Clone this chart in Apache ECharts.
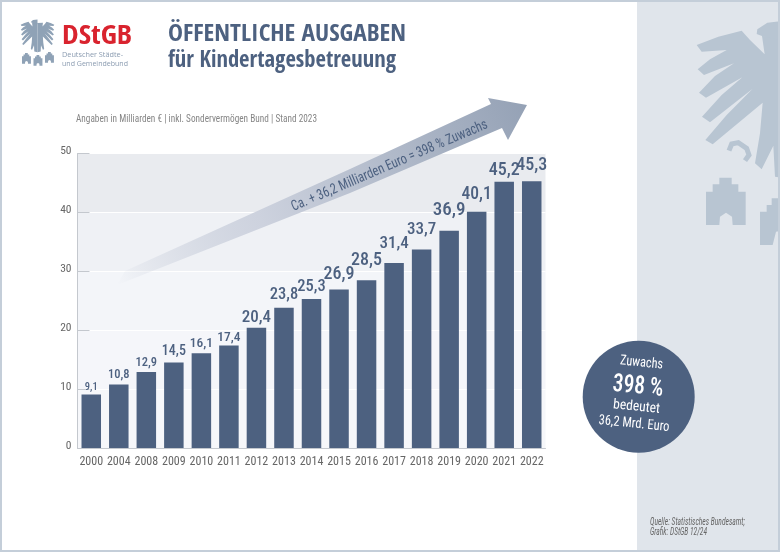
<!DOCTYPE html>
<html>
<head>
<meta charset="utf-8">
<title>Öffentliche Ausgaben für Kindertagesbetreuung</title>
<script src="https://cdn.jsdelivr.net/npm/echarts@6/dist/echarts.min.js"></script>
<style>
html, body { margin: 0; padding: 0; background: #fff; }
#chart { width: 780px; height: 552px; }
</style>
</head>
<body>
<div id="chart"></div>
<script>
var years = ['2000', '2004', '2008', '2009', '2010', '2011', '2012', '2013', '2014', '2015', '2016', '2017', '2018', '2019', '2020', '2021', '2022'];
var values = [9.1, 10.8, 12.9, 14.5, 16.1, 17.4, 20.4, 23.8, 25.3, 26.9, 28.5, 31.4, 33.7, 36.9, 40.1, 45.2, 45.3];
var labelSizes = [10.5, 12.5, 12.5, 14, 13.5, 13.5, 17, 16.5, 16.5, 18, 18, 17, 17, 19, 17.5, 18, 18];
var labelGaps = [2, 3, 3, 4, 3, 1, 2, 4, 4, 6, 11, 11, 11, 11, 8, 2, 7];
var yTicks = [0, 10, 20, 30, 40, 50];

var COND = '"Roboto Condensed", "Roboto", sans-serif';
var HEAD = '"Open Sans Condensed", "Roboto Condensed", sans-serif';
var BLUE = '#4d6180';
var EAGLE = '#b8c5d2';
var LOGO = '#8fa2b6';

// Adlerflügel in Zoomkoordinaten, 490 ist die Mittelachse
var wingShape = [[490,110],[396,108],[404,163],[360,120],[335,92],[265,110],[200,135],[215,155],[290,150],[240,178],[203,208],[222,225],[312,190],[255,228],[207,278],[228,293],[337,232],[275,285],[216,350],[240,367],[368,266],[290,345],[226,420],[248,433],[398,308],[390,400],[375,490],[395,508],[430,437],[435,530],[490,540]];
var headShape = [[490,60],[412,68],[382,88],[380,102],[396,108],[490,130]];
var clawShape = [[297,452],[305,432],[325,428],[350,445],[357,465],[345,482]];
var castleShape = [[228,575],[248,575],[248,553],[268,553],[268,533],[305,533],[305,553],[325,553],[325,575],[347,575],[347,675],[308,675],[306,650],[288,638],[270,650],[268,675],[228,675]];
var castle2Shape = [[390,635],[410,635],[410,615],[425,615],[425,595],[470,595],[470,690],[438,695],[428,735],[390,735]];

var measureCtx = document.createElement('canvas').getContext('2d');

function place(pts, ox, oy, sx, sy) {
    return pts.map(function (p) { return [ox + p[0] * sx, oy + p[1] * sy]; });
}
function poly(pts, fill) {
    return { type: 'polygon', z: 5, shape: { points: pts }, style: { fill: fill } };
}
// Text, der per scaleX auf die Breite aus der Vorlage gebracht wird
function txt(text, x, y, size, width, fill, opts) {
    opts = opts || {};
    var family = opts.family || COND;
    var weight = opts.weight || 'normal';
    var fstyle = opts.style || 'normal';
    measureCtx.font = fstyle + ' ' + weight + ' ' + size + 'px ' + family;
    var sx = width / measureCtx.measureText(text).width;
    return {
        type: 'text', z: 8, x: x, y: y, rotation: opts.rotation || 0, scaleX: sx,
        style: {
            text: text, fill: fill, fontSize: size, fontFamily: family,
            fontWeight: weight, fontStyle: fstyle,
            align: opts.align || 'left', verticalAlign: 'middle'
        }
    };
}
function rect(x, y, w, h, fill, z) {
    return { type: 'rect', z: z, shape: { x: x, y: y, width: w, height: h }, style: { fill: fill } };
}

var graphics = [
    rect(637, 0, 143, 552, '#e0e5eb', 0),
    // grosser Adler rechts
    poly(place(wingShape, 630, 0, 1 / 3, 1 / 3), EAGLE),
    poly(place(headShape, 630, 0, 1 / 3, 1 / 3), EAGLE),
    { type: 'polyline', z: 5, shape: { points: place(clawShape, 630, 0, 1 / 3, 1 / 3) }, style: { stroke: EAGLE, lineWidth: 5, fill: null } },
    poly(place(castleShape, 630, 0, 1 / 3, 1 / 3), EAGLE),
    poly(place(castle2Shape, 630, 0, 1 / 3, 1 / 3), EAGLE),
    // Rahmen
    rect(0, 0, 780, 2, '#c4ced9', 9),
    rect(0, 550, 780, 2, '#c4ced9', 9),
    rect(0, 0, 2, 552, '#c4ced9', 9),
    rect(778, 0, 2, 552, '#c4ced9', 9),
    // Logo
    poly(place(wingShape, 37.5 - 490 * 0.058, 15.5, 0.058, 0.068), LOGO),
    poly(place(wingShape, 37.5 + 490 * 0.058, 15.5, -0.058, 0.068), LOGO),
    poly(place(headShape, 37.5 - 490 * 0.058, 15.5, 0.058, 0.068), LOGO),
    poly(place(castleShape, 22 - 228 * 0.075, 53 - 533 * 0.075, 0.075, 0.075), LOGO),
    poly(place(castleShape, 33.5 - 228 * 0.075, 55 - 533 * 0.075, 0.075, 0.075), LOGO),
    poly(place(castleShape, 45 - 228 * 0.075, 52 - 533 * 0.075, 0.075, 0.075), LOGO),
    txt('DStGB', 62, 37, 27, 70, '#d9232e', { family: HEAD }),
    txt('Deutscher Städte-', 62, 55, 8, 61, '#8a9bb0', { family: '"Open Sans", sans-serif' }),
    txt('und Gemeindebund', 62, 63.5, 8, 66, '#8a9bb0', { family: '"Open Sans", sans-serif' }),
    // Titel
    txt('ÖFFENTLICHE AUSGABEN', 168, 35, 24, 238, BLUE, { family: HEAD }),
    txt('für Kindertagesbetreuung', 168, 61, 23, 228, BLUE, { family: HEAD }),
    txt('Angaben in Milliarden € | inkl. Sondervermögen Bund | Stand 2023', 76, 119, 11, 241, '#858585'),
    // Pfeil
    {
        type: 'polygon', z: 4,
        shape: { points: [[125, 271], [350, 169], [491, 104], [488, 98], [527, 105], [508, 140], [502, 128], [350, 193], [117, 285]] },
        style: {
            fill: new echarts.graphic.LinearGradient(0, 1, 1, 0, [
                { offset: 0, color: 'rgba(190,197,212,0)' },
                { offset: 0.35, color: '#cdd2de' },
                { offset: 1, color: '#94a1b5' }
            ])
        }
    },
    txt('Ca. + 36,2 Milliarden Euro = 398 % Zuwachs', 389.5, 166, 14.5, 212, BLUE, { align: 'center', rotation: 0.405 }),
    // Kreis
    { type: 'circle', z: 7, shape: { cx: 638.7, cy: 396.7, r: 56 }, style: { fill: BLUE } },
    txt('Zuwachs', 641.5, 363, 14, 43, '#fff', { align: 'center', rotation: -0.1 }),
    txt('398 %', 638, 387, 25, 51, '#fff', { align: 'center', rotation: -0.1, weight: 500 }),
    txt('bedeutet', 636.5, 407, 14, 47, '#fff', { align: 'center', rotation: -0.1 }),
    txt('36,2 Mrd. Euro', 634, 424, 14, 71, '#fff', { align: 'center', rotation: -0.1 }),
    // Quelle
    txt('Quelle: Statistisches Bundesamt;', 650, 522.7, 10, 95, '#666', { style: 'italic' }),
    txt('Grafik: DStGB 12/24', 650, 532.7, 10, 57, '#666', { style: 'italic' })
];

var chart = echarts.init(document.getElementById('chart'), null, { renderer: 'canvas' });
chart.setOption({
    animation: false,
    backgroundColor: '#fff',
    graphic: graphics,
    grid: { left: 77.5, right: 234.5, top: 153.5, bottom: 104 },
    xAxis: {
        type: 'category',
        data: years,
        axisLine: { lineStyle: { color: '#c4c8ce', width: 1 } },
        axisTick: { show: false },
        axisLabel: { interval: 0, color: '#666', fontSize: 12, fontFamily: COND, margin: 8 }
    },
    yAxis: {
        type: 'value',
        min: yTicks[0],
        max: yTicks[yTicks.length - 1],
        interval: 10,
        axisLine: { show: true, lineStyle: { color: '#c4c8ce', width: 1 } },
        axisTick: { show: true, inside: true, length: 12, lineStyle: { color: '#c4c8ce' } },
        axisLabel: { color: '#666', fontSize: 11.5, fontFamily: COND, margin: 6, verticalAlign: 'bottom', lineHeight: 4 },
        splitLine: { show: true, lineStyle: { color: '#fff', width: 1 } },
        splitArea: { show: true, areaStyle: { color: ['#f6f7fa', '#f5f6fa', '#f3f5f9', '#eff1f5', '#e9ebef'] } }
    },
    series: [{
        type: 'bar',
        barWidth: 19.5,
        itemStyle: { color: BLUE },
        label: {
            show: true,
            position: 'top',
            color: BLUE,
            fontFamily: COND,
            fontWeight: 500,
            formatter: function (p) { return String(p.value).replace('.', ','); }
        },
        data: values.map(function (v, i) {
            return { value: v, label: { fontSize: labelSizes[i], distance: labelGaps[i] } };
        })
    }]
});
</script>
</body>
</html>
